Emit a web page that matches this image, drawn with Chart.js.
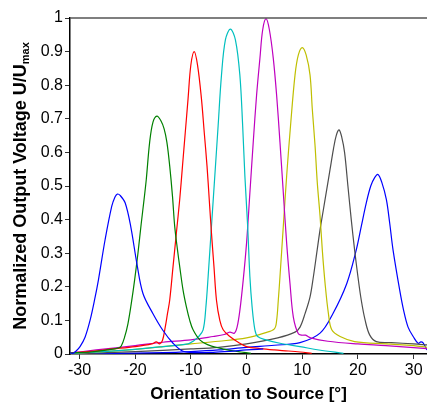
<!DOCTYPE html>
<html>
<head>
<meta charset="utf-8">
<script src="https://cdn.jsdelivr.net/npm/chart.js@4.4.1/dist/chart.umd.min.js"></script>
<style>
  html, body { margin: 0; padding: 0; background: #fff; }
  #wrap { width: 427px; height: 403px; }
</style>
</head>
<body>
<div id="wrap"><canvas id="myChart" width="427" height="403"></canvas></div>
<script>
// tick labels
const xTicks = [-30, -20, -10, 0, 10, 20, 30];
const yTicks = [0, 0.1, 0.2, 0.3, 0.4, 0.5, 0.6, 0.7, 0.8, 0.9, 1];

// one curve per source position
const blueLeftX = [-31.7, -31.2, -30.6, -29.9, -29.0, -28.1, -27.3, -26.6, -25.4, -24.2, -23.6, -23.2, -22.7, -21.8, -20.8, -19.7, -18.6, -16.8, -15.0, -13.2, -11.4, -9, -6, -3, 0, 3];
const blueLeftY = [0.004, 0.002, 0.009, 0.022, 0.05, 0.10, 0.16, 0.22, 0.34, 0.44, 0.468, 0.476, 0.472, 0.45, 0.38, 0.27, 0.18, 0.12, 0.07, 0.032, 0.008, 0.004, 0.005, 0.008, 0.012, 0.015];

const greenX = [-31.7, -28, -25, -23, -22.5, -21.9, -21.3, -20.7, -20.1, -19.5, -18.9, -18.4, -18.0, -17.4, -16.8, -16.1, -15.4, -14.8, -14.3, -13.8, -13.3, -12.9, -12.4, -12.0, -11.4, -10.8, -10.2, -9.6, -8.4, -7, -5, -3, -1, 0.8];
const greenY = [0.003, 0.006, 0.012, 0.018, 0.024, 0.05, 0.09, 0.15, 0.22, 0.30, 0.39, 0.46, 0.52, 0.63, 0.69, 0.708, 0.695, 0.67, 0.63, 0.56, 0.47, 0.38, 0.31, 0.26, 0.19, 0.14, 0.10, 0.072, 0.042, 0.028, 0.018, 0.011, 0.006, 0.002];

const redX = [-31.7, -28, -24, -20, -17, -16.2, -15.6, -15.1, -14.6, -14.2, -13.8, -13.2, -12.6, -12.0, -11.5, -11.0, -10.5, -10.0, -9.4, -8.8, -8.1, -7.6, -7.1, -6.7, -6.3, -5.85, -5.4, -4.8, -4.2, -3.0, -1.5, 0, 2.5, 5, 7.5, 9.6, 11.7];
const redY = [0.003, 0.008, 0.015, 0.022, 0.03, 0.036, 0.03, 0.04, 0.08, 0.12, 0.16, 0.26, 0.36, 0.46, 0.56, 0.66, 0.76, 0.86, 0.90, 0.86, 0.76, 0.66, 0.56, 0.46, 0.36, 0.26, 0.16, 0.10, 0.072, 0.052, 0.035, 0.022, 0.016, 0.012, 0.009, 0.006, 0.002];

const cyanX = [-31.7, -25, -20, -15, -10.5, -9.6, -8.7, -7.8, -7.3, -6.9, -6.3, -5.7, -5.1, -4.5, -3.8, -2.9, -2.0, -1.2, -0.7, -0.3, 0.2, 0.6, 1.0, 1.5, 2.0, 3.5, 6, 9.6, 13, 17.4];
const cyanY = [0.002, 0.008, 0.014, 0.022, 0.03, 0.038, 0.05, 0.072, 0.14, 0.23, 0.38, 0.53, 0.68, 0.83, 0.935, 0.967, 0.935, 0.83, 0.68, 0.53, 0.38, 0.23, 0.14, 0.072, 0.052, 0.042, 0.032, 0.022, 0.012, 0.002];

const magentaX = [-31.7, -27, -20, -15, -10, -6, -4, -3.0, -2.2, -1.7, -1.2, -0.6, 0, 0.6, 1.2, 1.8, 2.4, 2.9, 3.5, 4.1, 4.8, 5.4, 6.0, 6.6, 7.2, 7.8, 8.4, 9.3, 10.0, 10.6, 11.5, 14.6, 20, 25, 30, 32.4];
const magentaY = [0.003, 0.012, 0.025, 0.035, 0.042, 0.052, 0.058, 0.065, 0.062, 0.08, 0.13, 0.22, 0.33, 0.48, 0.63, 0.77, 0.88, 0.965, 0.998, 0.965, 0.88, 0.77, 0.63, 0.48, 0.33, 0.21, 0.11, 0.06, 0.056, 0.056, 0.048, 0.038, 0.03, 0.025, 0.019, 0.016];

const yellowX = [-31.7, -25, -20, -10, -5, 0, 3.3, 5.0, 5.4, 5.7, 6.0, 6.6, 7.2, 7.9, 8.7, 9.3, 10.0, 10.7, 11.4, 11.8, 12.3, 12.7, 13.2, 13.6, 14.1, 14.7, 15.3, 16.8, 19.4, 25, 30, 32.4];
const yellowY = [0.002, 0.008, 0.014, 0.03, 0.038, 0.048, 0.063, 0.075, 0.10, 0.16, 0.23, 0.38, 0.53, 0.68, 0.83, 0.89, 0.912, 0.89, 0.83, 0.73, 0.62, 0.51, 0.41, 0.31, 0.21, 0.12, 0.072, 0.052, 0.037, 0.03, 0.025, 0.02];

const grayX = [-31.7, -25, -20, -10, -5, 0, 5.6, 8.7, 9.6, 10.5, 11.4, 12.0, 12.6, 13.2, 13.8, 14.4, 15.0, 15.6, 16.1, 16.6, 17.1, 17.6, 18.2, 18.8, 19.4, 20.0, 20.6, 21.3, 22.1, 23.3, 26, 30, 32.4];
const grayY = [0.0, 0.004, 0.007, 0.015, 0.02, 0.03, 0.048, 0.065, 0.08, 0.12, 0.17, 0.23, 0.30, 0.37, 0.43, 0.49, 0.55, 0.61, 0.65, 0.667, 0.645, 0.6, 0.5, 0.4, 0.31, 0.23, 0.16, 0.1, 0.057, 0.037, 0.034, 0.03, 0.027];

const blueRightX = [-31.7, -25, -15, -10, -5, 0, 5, 9.6, 13.2, 15.5, 18, 19.7, 20.6, 21.5, 22.3, 23.0, 23.6, 24.3, 25.1, 25.7, 26.3, 27.5, 28.2, 29, 30.0, 30.8, 31.3, 31.7, 32.4];
const blueRightY = [0.0, 0.002, 0.004, 0.007, 0.012, 0.02, 0.026, 0.034, 0.062, 0.12, 0.21, 0.31, 0.38, 0.45, 0.50, 0.525, 0.534, 0.51, 0.46, 0.39, 0.31, 0.19, 0.13, 0.08, 0.05, 0.032, 0.036, 0.033, 0.012];

function toPoints(xs, ys) {
  return xs.map((x, i) => ({ x: x, y: ys[i] }));
}

function curve(xs, ys, color) {
  return {
    data: toPoints(xs, ys),
    borderColor: color,
    backgroundColor: 'transparent',
    borderWidth: 1.2,
    pointRadius: 0,
    tension: 0.35,
    fill: false
  };
}

const font = 'Liberation Sans, Arial, Helvetica, sans-serif';

// y axis title with subscript, and the grey top frame line
const framePlugin = {
  id: 'frame',
  afterDraw(chart) {
    const { ctx, chartArea } = chart;
    ctx.save();
    ctx.strokeStyle = '#555';
    ctx.lineWidth = 1.5;
    ctx.beginPath();
    ctx.moveTo(chartArea.left, chartArea.top);
    ctx.lineTo(chartArea.right, chartArea.top);
    ctx.stroke();

    const main = 'Normalized Output Voltage U/U';
    const sub = 'max';
    ctx.fillStyle = '#000';
    ctx.font = 'bold 18px ' + font;
    const wMain = ctx.measureText(main).width;
    ctx.font = 'bold 11px ' + font;
    const wSub = ctx.measureText(sub).width;
    const total = wMain + wSub;
    ctx.translate(26, (chartArea.top + chartArea.bottom) / 2);
    ctx.rotate(-Math.PI / 2);
    ctx.textBaseline = 'alphabetic';
    ctx.textAlign = 'left';
    ctx.font = 'bold 18px ' + font;
    ctx.fillText(main, -total / 2, 0);
    ctx.font = 'bold 11px ' + font;
    ctx.fillText(sub, -total / 2 + wMain, 3);
    ctx.restore();
  }
};

const ctx = document.getElementById('myChart').getContext('2d');
const chart = new Chart(ctx, {
  type: 'line',
  data: {
    datasets: [
      curve(blueLeftX, blueLeftY, '#0000ff'),
      curve(greenX, greenY, '#008000'),
      curve(redX, redY, '#ff0000'),
      curve(cyanX, cyanY, '#00bfbf'),
      curve(magentaX, magentaY, '#bf00bf'),
      curve(yellowX, yellowY, '#bfbf00'),
      curve(grayX, grayY, '#4d4d4d'),
      curve(blueRightX, blueRightY, '#0000ff')
    ]
  },
  options: {
    responsive: false,
    animation: false,
    devicePixelRatio: 1,
    layout: { padding: { top: 18, right: 0, left: 0, bottom: 0 } },
    plugins: { legend: { display: false }, tooltip: { enabled: false } },
    scales: {
      x: {
        type: 'linear',
        min: -31.7,
        max: 32.4,
        afterBuildTicks: s => { s.ticks = xTicks.map(v => ({ value: v })); },
        afterFit: s => { s.height = 49; },
        ticks: { font: { size: 16, family: font }, color: '#000', padding: 2, maxRotation: 0, callback: v => String(v) },
        grid: { drawOnChartArea: false, drawTicks: true, tickLength: 5, color: '#333' },
        border: { color: '#000', width: 1.5 },
        title: { display: true, text: 'Orientation to Source [°]', color: '#000', font: { size: 17, weight: 'bold', family: font, lineHeight: 1 }, padding: { top: 0, bottom: 0 } }
      },
      y: {
        min: 0,
        max: 1,
        afterBuildTicks: s => { s.ticks = yTicks.map(v => ({ value: v })); },
        afterFit: s => { s.width = 70; },
        ticks: { font: { size: 16, family: font }, color: '#000', padding: 2, callback: v => String(v) },
        grid: { drawOnChartArea: false, drawTicks: true, tickLength: 5, color: '#333' },
        border: { color: '#000', width: 1.5 }
      }
    }
  },
  plugins: [framePlugin]
});
</script>
</body>
</html>
